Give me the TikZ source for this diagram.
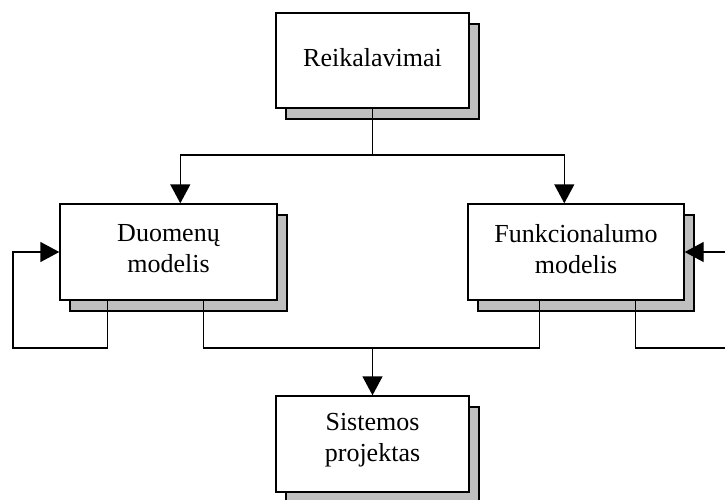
\documentclass[tikz,border=0pt]{standalone}
\usepackage{fontspec}
\setmainfont{Liberation Serif}
\usetikzlibrary{shadows,arrows.meta,calc}

\tikzset{
  stage/.style={draw, fill=white, line width=1.4pt, inner sep=0pt,
    align=center, font=\fontsize{26}{31}\selectfont,
    general shadow={draw, fill=black!25, line width=1.4pt,
      shadow xshift=10pt, shadow yshift=-11pt}},
  link/.style={line width=1.4pt},
  arr/.style={link, -{Triangle[length=19pt,width=20pt]}}
}

\begin{document}
\begin{tikzpicture}[x=1pt, y=-1pt]
  \useasboundingbox (0,0) rectangle (725,499);
  \clip (0,0) rectangle (725,499);

  % stages
  \node[stage, minimum width=193pt, minimum height=95pt] (R) at (372.5,60.5) {};
  \node[stage, minimum width=217pt, minimum height=96pt] (D) at (168.5,252) {};
  \node[stage, minimum width=216pt, minimum height=96pt] (F) at (576,252) {};
  \node[stage, minimum width=193pt, minimum height=96pt] (S) at (372.5,444) {};

  % captions
  \node[align=center, font=\fontsize{26}{31}\selectfont] at (372.5,58) {Reikalavimai};
  \node[align=center, font=\fontsize{26}{31}\selectfont] at (168.5,249) {Duomenų\\modelis};
  \node[align=center, font=\fontsize{26}{31}\selectfont] at (576,249) {Funkcionalumo\\modelis};
  \node[align=center, font=\fontsize{26}{31}\selectfont] at (372.5,440) {Sistemos\\projektas};

  % branch points
  \coordinate (split) at (372.5,155);
  \coordinate (merge) at (372.5,348);
  \coordinate (dloop) at (13,348);
  \coordinate (floop) at (745,348);

  % requirements feed both models
  \draw[link] (R.south) -- (split);
  \draw[arr] (split) -| ([xshift=121pt]D.north west);
  \draw[arr] (split) -| ([xshift=97pt]F.north west);

  % feedback loops
  \draw[arr] ([xshift=48pt]D.south west) |- (dloop) |- (D.west);
  \draw[arr] ([xshift=168pt]F.south west) |- (floop) |- (F.east);

  % both models merge into the system design
  \draw[link] ([xshift=144pt]D.south west) |- (merge) -| ([xshift=72pt]F.south west);
  \draw[arr] (merge) -- (S.north);
\end{tikzpicture}
\end{document}
